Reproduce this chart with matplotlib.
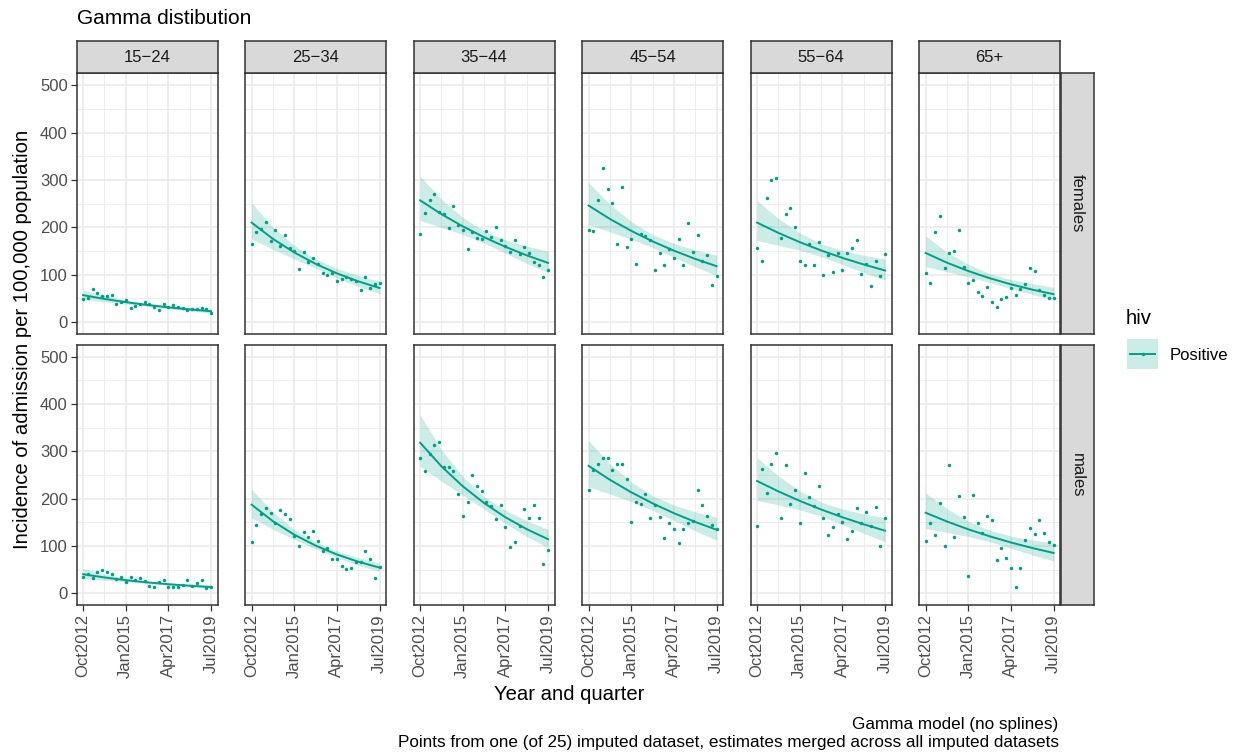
import matplotlib
matplotlib.use('Agg')
import matplotlib.pyplot as plt
from matplotlib.ticker import FixedLocator

plt.rcParams['font.family'] = ['Liberation Sans', 'DejaVu Sans']

# ---- data ----
age_groups = ['15−24', '25−34', '35−44', '45−54', '55−64', '65+']
sexes = ['females', 'males']
quarter_idx = list(range(28))          # Oct2012 ... Jul2019
tick_idx = [0, 9, 18, 27]
tick_labels = ['Oct2012', 'Jan2015', 'Apr2017', 'Jul2019']

# observed points (one imputed dataset)
f_15_24 = [48, 52, 70, 61, 56, 56, 58, 38, 43, 47, 30, 35, 38, 42, 38, 31, 25, 39, 33, 36, 31, 29, 25, 27, 27, 30, 27, 20]
f_25_34 = [165, 190, 196, 212, 171, 194, 160, 184, 156, 151, 113, 149, 127, 135, 123, 103, 99, 103, 87, 92, 95, 91, 87, 68, 95, 71, 80, 82]
f_35_44 = [185, 230, 258, 270, 232, 229, 199, 244, 205, 194, 155, 190, 177, 175, 192, 180, 201, 174, 160, 148, 173, 144, 158, 146, 126, 120, 95, 110]
f_45_54 = [194, 192, 258, 326, 280, 251, 165, 285, 158, 175, 123, 187, 182, 173, 111, 146, 120, 155, 135, 175, 120, 210, 149, 183, 130, 142, 79, 97]
f_55_64 = [156, 129, 261, 300, 304, 177, 229, 240, 201, 129, 121, 165, 120, 169, 100, 142, 105, 146, 110, 145, 156, 173, 101, 123, 76, 128, 98, 144]
f_65 = [104, 83, 191, 223, 114, 146, 151, 195, 116, 83, 89, 63, 56, 74, 43, 31, 49, 54, 71, 58, 70, 80, 114, 108, 68, 57, 50, 51]
m_15_24 = [35, 40, 31, 44, 49, 44, 41, 30, 35, 24, 35, 27, 32, 25, 16, 14, 23, 27, 13, 13, 13, 17, 27, 16, 22, 27, 11, 14]
m_25_34 = [108, 144, 168, 179, 170, 149, 176, 168, 156, 120, 99, 129, 118, 131, 111, 90, 96, 73, 72, 58, 52, 54, 66, 65, 89, 73, 33, 56]
m_35_44 = [286, 259, 294, 313, 320, 266, 266, 258, 209, 163, 193, 249, 227, 215, 193, 184, 157, 186, 140, 98, 109, 142, 177, 159, 187, 159, 61, 92]
m_45_54 = [218, 261, 272, 286, 286, 260, 273, 273, 241, 151, 192, 189, 209, 158, 187, 161, 117, 149, 135, 105, 135, 149, 153, 218, 187, 162, 144, 135]
m_55_64 = [142, 263, 211, 273, 297, 158, 270, 188, 218, 149, 254, 204, 185, 227, 158, 122, 139, 168, 150, 114, 132, 179, 149, 171, 142, 182, 99, 158]
m_65 = [110, 148, 123, 191, 99, 270, 119, 206, 161, 37, 208, 149, 127, 162, 154, 70, 96, 75, 54, 13, 54, 112, 138, 124, 155, 128, 108, 101]

# model estimates (Gamma GLM, merged) at selected quarters
fit_q = [0, 4.5, 9, 13.5, 18, 22.5, 27]
fit_f_15_24 = [57, 49.0, 42.2, 36.3, 31.2, 26.8, 23]
lo_f_15_24 = [47.6, 42.9, 38.3, 33.5, 28.3, 23.5, 19.2]
hi_f_15_24 = [68.2, 56.0, 46.5, 39.3, 34.4, 30.6, 27.5]
fit_f_25_34 = [210, 175.7, 147.0, 123.0, 102.9, 86.1, 72]
lo_f_25_34 = [175.4, 153.7, 133.5, 113.5, 93.4, 75.3, 60.1]
hi_f_25_34 = [251.4, 200.8, 161.8, 133.2, 113.3, 98.4, 86.2]
fit_f_35_44 = [257, 227.9, 202.1, 179.2, 158.9, 140.9, 125]
lo_f_35_44 = [214.6, 199.9, 184.9, 167.0, 145.4, 123.6, 104.4]
hi_f_35_44 = [307.6, 259.8, 220.9, 192.2, 173.7, 160.6, 149.6]
fit_f_45_54 = [246, 217.7, 192.6, 170.4, 150.8, 133.4, 118]
lo_f_45_54 = [205.4, 190.5, 174.9, 157.3, 136.9, 116.7, 98.5]
hi_f_45_54 = [294.5, 248.8, 212.1, 184.5, 166.0, 152.5, 141.2]
fit_f_55_64 = [210, 188.3, 168.8, 151.3, 135.6, 121.6, 109]
lo_f_55_64 = [172.0, 162.1, 151.6, 138.3, 121.8, 104.7, 89.3]
hi_f_55_64 = [256.4, 218.6, 188.0, 165.5, 151.1, 141.2, 133.1]
fit_f_65 = [146, 125.5, 107.9, 92.8, 79.8, 68.6, 59]
lo_f_65 = [117.2, 106.4, 95.7, 84.0, 70.8, 58.2, 47.4]
hi_f_65 = [181.9, 148.0, 121.6, 102.5, 89.9, 80.9, 73.5]
fit_m_15_24 = [40, 33.2, 27.5, 22.8, 18.9, 15.7, 13]
lo_m_15_24 = [30.5, 27.3, 24.1, 20.6, 16.6, 12.9, 9.9]
hi_m_15_24 = [52.4, 40.3, 31.3, 25.2, 21.5, 19.1, 17.0]
fit_m_25_34 = [187, 152.0, 123.6, 100.5, 81.7, 66.4, 54]
lo_m_25_34 = [159.3, 135.0, 113.6, 93.7, 75.1, 59.0, 46.0]
hi_m_25_34 = [219.5, 171.2, 134.6, 107.8, 89.0, 74.8, 63.4]
fit_m_35_44 = [318, 268.0, 225.9, 190.4, 160.4, 135.2, 114]
lo_m_35_44 = [268.4, 236.6, 207.2, 177.5, 147.1, 119.4, 96.2]
hi_m_35_44 = [376.8, 303.6, 246.5, 204.2, 175.0, 153.2, 135.1]
fit_m_45_54 = [269, 239.5, 213.2, 189.8, 169.0, 150.5, 134]
lo_m_45_54 = [224.6, 209.6, 193.6, 175.2, 153.5, 131.7, 111.9]
hi_m_45_54 = [322.0, 273.7, 234.7, 205.6, 186.1, 172.0, 160.4]
fit_m_55_64 = [237, 215.0, 195.0, 176.8, 160.4, 145.5, 132]
lo_m_55_64 = [196.0, 186.6, 176.1, 162.5, 144.8, 126.3, 109.2]
hi_m_55_64 = [286.5, 247.7, 216.1, 192.5, 177.7, 167.6, 159.6]
fit_m_65 = [170, 151.5, 134.9, 120.2, 107.1, 95.4, 85]
lo_m_65 = [136.5, 128.5, 119.7, 108.8, 95.0, 80.9, 68.3]
hi_m_65 = [211.8, 178.6, 152.0, 132.8, 120.7, 112.5, 105.9]

points = {
    'females': [f_15_24, f_25_34, f_35_44, f_45_54, f_55_64, f_65],
    'males': [m_15_24, m_25_34, m_35_44, m_45_54, m_55_64, m_65],
}
fits = {
    'females': [(fit_f_15_24, lo_f_15_24, hi_f_15_24), (fit_f_25_34, lo_f_25_34, hi_f_25_34),
                (fit_f_35_44, lo_f_35_44, hi_f_35_44), (fit_f_45_54, lo_f_45_54, hi_f_45_54),
                (fit_f_55_64, lo_f_55_64, hi_f_55_64), (fit_f_65, lo_f_65, hi_f_65)],
    'males': [(fit_m_15_24, lo_m_15_24, hi_m_15_24), (fit_m_25_34, lo_m_25_34, hi_m_25_34),
              (fit_m_35_44, lo_m_35_44, hi_m_35_44), (fit_m_45_54, lo_m_45_54, hi_m_45_54),
              (fit_m_55_64, lo_m_55_64, hi_m_55_64), (fit_m_65, lo_m_65, hi_m_65)],
}

# ---- layout (pixels) ----
W, H = 1239, 754
teal = '#00A087'
fig = plt.figure(figsize=(W / 100, H / 100), dpi=100)


def ax_at(x0, y0, x1, y1):
    return fig.add_axes([x0 / W, 1 - y1 / H, (x1 - x0) / W, (y1 - y0) / H])


def fx(x):
    return x / W


def fy(y):
    return 1 - y / H


def border(a):
    for s in a.spines.values():
        s.set_color('#333333')
        s.set_linewidth(1.1)


col_left = [76.7 + 168.5 * i for i in range(6)]
col_w = 140.8
rows = [(73.3, 334.0), (344.7, 605.0)]

for r, sex in enumerate(sexes):
    y0, y1 = rows[r]
    for c, age in enumerate(age_groups):
        x0 = col_left[c]
        ax = ax_at(x0, y0, x0 + col_w, y1)
        vals = points[sex][c]
        fit, lo, hi = fits[sex][c]
        ax.fill_between(fit_q, lo, hi, color=teal, alpha=0.2, lw=0, zorder=2)
        ax.plot(fit_q, fit, color=teal, lw=1.4, zorder=3)
        ax.plot(quarter_idx, vals, 'o', ms=2.5, mec='none', color=teal, zorder=4)

        ax.set_xlim(-1.35, 28.35)
        ax.set_ylim(-25, 525)
        ax.xaxis.set_major_locator(FixedLocator(tick_idx))
        ax.xaxis.set_minor_locator(FixedLocator([4.5, 13.5, 22.5]))
        ax.yaxis.set_major_locator(FixedLocator([0, 100, 200, 300, 400, 500]))
        ax.yaxis.set_minor_locator(FixedLocator([50, 150, 250, 350, 450]))
        ax.grid(True, which='major', color='#EBEBEB', lw=1.2, zorder=0)
        ax.grid(True, which='minor', color='#EBEBEB', lw=0.6, zorder=0)
        ax.set_axisbelow(True)
        border(ax)
        ax.tick_params(which='major', length=4.5, width=0.9, color='#333333',
                       labelsize=12, labelcolor='#4D4D4D', pad=2)
        ax.tick_params(which='minor', length=0)
        if r == 1:
            ax.set_xticklabels(tick_labels, rotation=90)
        else:
            ax.tick_params(axis='x', which='major', length=0, labelbottom=False)
        if c == 0:
            ax.set_yticklabels(['0', '100', '200', '300', '400', '500'])
        else:
            ax.tick_params(axis='y', which='major', length=0, labelleft=False)

        # top strips
        if r == 0:
            sax = ax_at(x0, 40.7, x0 + col_w, 73.3)
            sax.set_facecolor('#D9D9D9')
            sax.set_xticks([])
            sax.set_yticks([])
            border(sax)
            sax.text(0.5, 0.5, age, ha='center', va='center', fontsize=12,
                     color='#1A1A1A', transform=sax.transAxes)

    # right strips
    rax = ax_at(1060.5, y0, 1094.0, y1)
    rax.set_facecolor('#D9D9D9')
    rax.set_xticks([])
    rax.set_yticks([])
    border(rax)
    rax.text(0.5, 0.5, sex, ha='center', va='center', rotation=270, fontsize=12,
             color='#1A1A1A', transform=rax.transAxes)

# titles
fig.text(fx(77), fy(18), 'Gamma distibution', fontsize=15, color='black', va='center', ha='left')
fig.text(fx(569), fy(694), 'Year and quarter', fontsize=14.6, ha='center', va='center')
fig.text(fx(23), fy(339), 'Incidence of admission per 100,000 population', fontsize=14.6,
         rotation=90, ha='center', va='center')
fig.text(fx(1058), fy(725), 'Gamma model (no splines)', fontsize=12.3, ha='right', va='center')
fig.text(fx(1059), fy(742), 'Points from one (of 25) imputed dataset, estimates merged across all imputed datasets',
         fontsize=12.3, ha='right', va='center')

# legend
fig.text(fx(1126), fy(318), 'hiv', fontsize=14.6, ha='left', va='center')
kax = ax_at(1127, 339, 1158, 369)
kax.set_facecolor((0, 0.627, 0.529, 0.2))
for s in kax.spines.values():
    s.set_visible(False)
kax.set_xticks([])
kax.set_yticks([])
kax.set_xlim(0, 1)
kax.set_ylim(0, 1)
kax.plot([0.1, 0.9], [0.5, 0.5], color=teal, lw=1.4)
kax.plot([0.5], [0.5], 'o', ms=2.5, mec='none', color=teal)
fig.text(fx(1170), fy(355), 'Positive', fontsize=12, ha='left', va='center')

fig.savefig('out.png', dpi=100)
